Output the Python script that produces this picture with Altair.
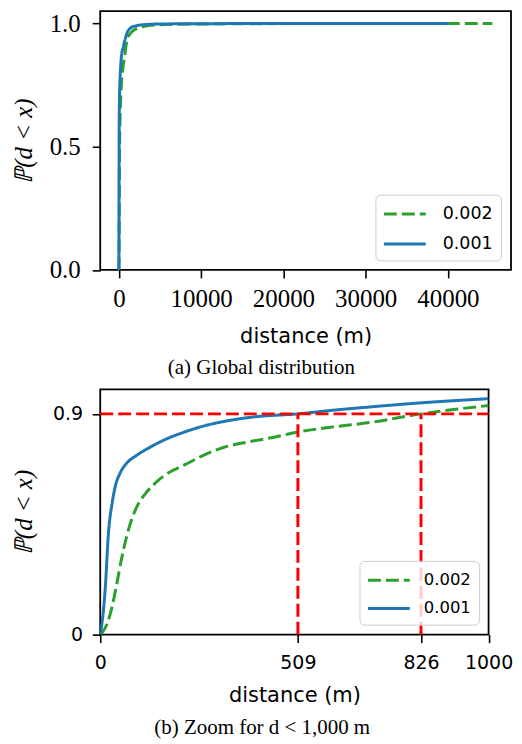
import altair as alt
import pandas as pd

series_names = ["0.002", "0.001"]
series_colors = ["#2ca02c", "#1f77b4"]
series_dashes = [[13, 5], [1, 0]]

dist_002 = [0, 5, 18, 30, 43, 55, 68, 80, 97, 118, 143, 176, 217, 267, 315, 382, 448, 509,
            600, 700, 826, 1000, 1300, 1700, 2200, 3000, 4500, 7000, 15000, 30000, 45400]
cdf_002 = [0, 0.008, 0.045, 0.11, 0.21, 0.31, 0.40, 0.465, 0.53, 0.578, 0.62, 0.66, 0.692,
           0.732, 0.762, 0.786, 0.805, 0.826, 0.847, 0.866, 0.900, 0.934, 0.955, 0.970,
           0.980, 0.988, 0.994, 0.997, 0.999, 1.0, 1.0]

dist_001 = [0, 4, 13, 21, 31, 39, 51, 67, 93, 126, 168, 217, 270, 315, 398, 509, 600, 700,
            826, 1000, 1500, 2000, 3000, 5000, 10000, 20000, 30000, 40100]
cdf_001 = [0, 0.04, 0.19, 0.41, 0.54, 0.606, 0.658, 0.697, 0.73, 0.762, 0.796, 0.826, 0.852,
           0.868, 0.888, 0.900, 0.915, 0.929, 0.945, 0.962, 0.984, 0.990, 0.995, 0.998,
           0.999, 1.0, 1.0, 1.0]

top_x_ticks = [0, 10000, 20000, 30000, 40000]
top_y_ticks = [0.0, 0.5, 1.0]
bottom_x_ticks = [0, 509, 826, 1000]
bottom_y_ticks = [0, 0.9]
quantile_level = [0.9]
quantile_dists = [509, 826]
zoom_max = 1000

rows = []
for name, xs, ys in ((series_names[0], dist_002, cdf_002), (series_names[1], dist_001, cdf_001)):
    for i, (x, y) in enumerate(zip(xs, ys)):
        rows.append({"series": name, "distance": x, "cdf": y, "order": i})
df = pd.DataFrame(rows)

df_h = pd.DataFrame({"level": quantile_level, "x0": [0], "x1": [zoom_max]})
df_v = pd.DataFrame({"d": quantile_dists, "y0": [0] * len(quantile_dists),
                     "y1": quantile_level * len(quantile_dists)})

common_axis = dict(grid=False, domain=False, tickColor="black", tickWidth=1.6, tickSize=8,
                   labelColor="black", titleColor="black", titleFontWeight="normal",
                   labelFlush=False, labelOverlap=False, labelBound=False)


def make_legend(fs, row_pad, lab_off):
    return alt.Legend(title=None, orient="bottom-right", offset=10,
                      symbolType="M-2,0L2,0", symbolSize=441, symbolStrokeWidth=3,
                      labelFont="DejaVu Sans", labelFontSize=fs, labelColor="black",
                      fillColor="rgba(255,255,255,0.8)", strokeColor="#cccccc",
                      cornerRadius=5, padding=7.5, rowPadding=row_pad, labelOffset=lab_off,
                      symbolOffset=10)


def enc(legend):
    return dict(
        color=alt.Color("series:N", scale=alt.Scale(domain=series_names, range=series_colors),
                        legend=legend),
        strokeDash=alt.StrokeDash("series:N", scale=alt.Scale(domain=series_names, range=series_dashes),
                                  legend=legend),
        order=alt.Order("order:Q"),
    )


top = alt.Chart(df).mark_line(strokeWidth=3, interpolate="monotone").encode(
    x=alt.X("distance:Q", scale=alt.Scale(domain=[-2270, 47670], nice=False, zero=False),
            axis=alt.Axis(values=top_x_ticks, format="d", title="distance (m)",
                          labelFont="Liberation Serif", labelFontSize=25,
                          titleFont="DejaVu Sans", titleFontSize=21,
                          labelPadding=9, titlePadding=14, **common_axis)),
    y=alt.Y("cdf:Q", scale=alt.Scale(domain=[0, 1.05], nice=False),
            axis=alt.Axis(values=top_y_ticks, format=".1f", title="ℙ(d < x)",
                          labelFont="Liberation Serif", labelFontSize=25,
                          titleFont="Liberation Serif", titleFontSize=25, titleFontStyle="italic",
                          labelPadding=12, titlePadding=12.5, **common_axis)),
    **enc(make_legend(17.5, 9, 26)),
).properties(
    width=412, height=259.5,
    title=alt.Title("(a) Global distribution", orient="bottom", anchor="middle", frame="bounds",
                    font="Liberation Serif", fontSize=21, fontWeight="normal", color="black",
                    offset=10),
)

x_b = alt.Scale(domain=[0, zoom_max], nice=False, zero=False)
y_b = alt.Scale(domain=[0, 1.0], nice=False)

lines_b = alt.Chart(df).transform_filter(alt.datum.distance <= zoom_max).mark_line(
    strokeWidth=3, interpolate="monotone", clip=True).encode(
    x=alt.X("distance:Q", scale=x_b,
            axis=alt.Axis(values=bottom_x_ticks, format="d", title="distance (m)",
                          labelFont="DejaVu Sans", labelFontSize=19,
                          titleFont="DejaVu Sans", titleFontSize=21,
                          labelPadding=11, titlePadding=12.5, **common_axis)),
    y=alt.Y("cdf:Q", scale=y_b,
            axis=alt.Axis(values=bottom_y_ticks, format=".1~f", title="ℙ(d < x)",
                          labelFont="DejaVu Sans", labelFontSize=19,
                          titleFont="Liberation Serif", titleFontSize=25, titleFontStyle="italic",
                          labelPadding=9.7, titlePadding=15.8, **common_axis)),
    **enc(make_legend(16.5, 7.3, 23)),
)

hrule = alt.Chart(df_h).mark_rule(color="red", strokeWidth=3, strokeDash=[13, 5]).encode(
    y=alt.Y("level:Q", scale=y_b), x=alt.X("x0:Q", scale=x_b), x2="x1:Q")
vrule = alt.Chart(df_v).mark_rule(color="red", strokeWidth=3, strokeDash=[13, 5]).encode(
    x=alt.X("d:Q", scale=x_b), y=alt.Y("y0:Q", scale=y_b), y2="y1:Q")

bottom = alt.layer(lines_b, hrule, vrule).properties(
    width=389.5, height=246,
    title=alt.Title("(b) Zoom for d < 1,000 m", orient="bottom", anchor="middle", frame="bounds",
                    font="Liberation Serif", fontSize=21, fontWeight="normal", color="black",
                    offset=11),
)

chart = alt.vconcat(top, bottom, spacing=9.3,
                    padding={"left": 2.5, "top": 1.1, "right": 0, "bottom": 0}
                    ).resolve_scale(color="independent", strokeDash="independent"
                    ).configure_view(stroke="black", strokeWidth=1.8)

chart.save("out.html", embed_options={"renderer": "svg", "actions": False})
